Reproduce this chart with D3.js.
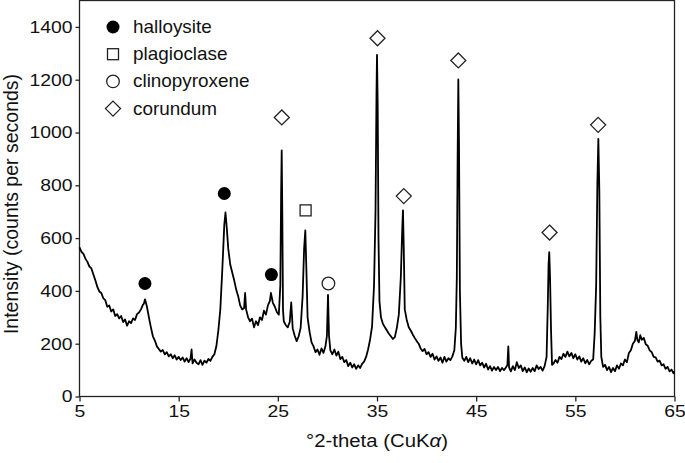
<!DOCTYPE html>
<html>
<head>
<meta charset="utf-8">
<script src="https://cdn.jsdelivr.net/npm/d3@7/dist/d3.min.js"></script>
<style>
  html, body { margin: 0; padding: 0; background: #fff; }
  svg { display: block; font-family: "Liberation Sans", Arial, sans-serif; }
</style>
</head>
<body>
<svg id="chart" width="685" height="463"></svg>
<script>
// XRD pattern: [°2θ, counts per second]
const pattern = [
[5.0,565],[5.2,548],[5.4,540],[5.6,522],[5.8,510],[6.0,492],[6.2,485],[6.4,462],[6.6,440],[6.8,415],
[7.0,398],[7.2,392],[7.4,372],[7.6,365],[7.8,340],[8.0,345],[8.2,322],[8.4,330],[8.6,305],[8.8,312],
[9.0,296],[9.2,305],[9.4,282],[9.6,292],[9.8,268],[10.0,285],[10.2,278],[10.4,296],[10.6,290],[10.8,312],
[11.0,318],[11.2,330],[11.4,348],[11.5,352],[11.6,368],[11.7,355],[11.8,340],[12.0,300],[12.2,262],[12.4,228],
[12.6,212],[12.8,190],[13.0,180],[13.2,170],[13.4,176],[13.6,160],[13.8,168],[14.0,152],[14.2,160],[14.4,145],
[14.6,156],[14.8,140],[15.0,150],[15.2,138],[15.4,148],[15.6,132],[15.8,145],[16.0,130],[16.2,144],[16.3,178],
[16.4,126],[16.6,140],[16.8,128],[17.0,122],[17.2,138],[17.4,120],[17.6,136],[17.8,128],[18.0,142],[18.2,135],
[18.4,150],[18.6,160],[18.8,190],[19.0,250],[19.2,330],[19.4,480],[19.6,650],[19.72,697],[19.85,640],[20.0,560],
[20.2,500],[20.4,470],[20.6,440],[20.8,405],[21.0,380],[21.2,345],[21.4,330],[21.6,335],[21.7,392],[21.8,330],
[22.0,300],[22.2,285],[22.4,295],[22.6,262],[22.8,285],[23.0,270],[23.2,300],[23.4,290],[23.6,325],[23.8,310],
[24.0,345],[24.2,362],[24.3,392],[24.5,355],[24.7,340],[24.9,320],[25.1,310],[25.25,420],[25.33,760],[25.39,932],
[25.45,700],[25.52,330],[25.6,285],[25.8,270],[26.0,262],[26.2,282],[26.35,356],[26.5,258],[26.7,230],[26.9,210],
[27.1,228],[27.3,260],[27.5,380],[27.65,560],[27.77,629],[27.88,480],[28.0,300],[28.2,245],[28.4,205],[28.6,190],
[28.8,168],[29.0,178],[29.2,158],[29.4,182],[29.6,165],[29.8,190],[29.95,230],[30.06,385],[30.16,230],[30.3,175],
[30.5,160],[30.7,178],[30.9,155],[31.1,170],[31.3,142],[31.5,150],[31.7,130],[31.9,138],[32.1,115],[32.3,128],
[32.5,110],[32.7,122],[32.9,105],[33.1,118],[33.3,108],[33.5,124],[33.7,132],[33.9,150],[34.1,178],[34.3,215],
[34.5,265],[34.7,420],[34.85,700],[34.95,1150],[35.0,1294],[35.07,1100],[35.15,600],[35.25,360],[35.4,300],[35.6,275],
[35.8,262],[36.0,250],[36.2,238],[36.4,228],[36.6,218],[36.8,225],[37.0,260],[37.2,310],[37.4,450],[37.55,640],
[37.62,705],[37.7,560],[37.8,330],[38.0,290],[38.2,262],[38.4,250],[38.6,235],[38.8,222],[39.0,210],[39.2,200],
[39.4,182],[39.6,172],[39.8,180],[40.0,160],[40.2,168],[40.4,150],[40.6,162],[40.8,140],[41.0,152],[41.2,135],
[41.4,148],[41.6,128],[41.8,150],[42.0,132],[42.2,145],[42.4,138],[42.6,152],[42.8,175],[42.95,260],[43.05,450],
[43.13,900],[43.2,1201],[43.27,950],[43.36,400],[43.48,200],[43.6,148],[43.8,135],[44.0,150],[44.2,130],[44.4,145],
[44.6,125],[44.8,140],[45.0,122],[45.2,138],[45.4,118],[45.6,128],[45.8,110],[46.0,124],[46.2,102],[46.4,115],
[46.6,98],[46.8,112],[47.0,100],[47.2,112],[47.4,96],[47.6,108],[47.8,100],[48.0,110],[48.15,120],[48.24,190],
[48.32,110],[48.5,95],[48.7,115],[48.9,100],[49.1,130],[49.3,108],[49.5,118],[49.7,96],[49.9,110],[50.1,92],
[50.3,106],[50.5,94],[50.7,108],[50.9,96],[51.1,118],[51.3,104],[51.5,112],[51.7,98],[51.9,115],[52.1,150],
[52.22,340],[52.3,500],[52.37,547],[52.45,450],[52.55,250],[52.65,120],[52.8,125],[53.0,138],[53.2,128],[53.4,150],
[53.6,142],[53.8,162],[54.0,150],[54.2,170],[54.4,152],[54.6,165],[54.8,145],[55.0,160],[55.2,140],[55.4,152],
[55.6,132],[55.8,145],[56.0,126],[56.2,138],[56.4,122],[56.6,135],[56.8,140],[56.95,240],[57.1,420],[57.22,800],
[57.32,976],[57.42,780],[57.52,300],[57.62,150],[57.8,112],[58.0,120],[58.2,100],[58.4,112],[58.6,92],[58.8,108],
[59.0,96],[59.2,118],[59.4,105],[59.6,125],[59.8,118],[60.0,140],[60.2,130],[60.4,165],[60.6,175],[60.8,200],
[61.0,210],[61.15,245],[61.25,215],[61.4,205],[61.55,232],[61.7,215],[61.9,222],[62.1,198],[62.3,192],[62.5,175],
[62.7,168],[62.9,150],[63.1,148],[63.3,132],[63.5,136],[63.7,118],[63.9,122],[64.1,105],[64.3,112],[64.5,95],
[64.7,102],[64.9,88],[65.0,95]
];

// Phase markers placed above peaks: [°2θ, counts]
const halloysite = [[11.6,428],[19.6,769],[24.35,462]];
const plagioclase = [[27.8,705]];
const clinopyroxene = [[30.1,428]];
const corundum = [[25.4,1057],[35.05,1357],[37.7,759],[43.2,1273],[52.4,621],[57.3,1029]];

const legendLabels = ["halloysite","plagioclase","clinopyroxene","corundum"];
const xTicks = [5,15,25,35,45,55,65];
const yTicks = [0,200,400,600,800,1000,1200,1400];

const svg = d3.select("#chart");
const x = d3.scaleLinear().domain([5,65]).range([79.5,674.5]);
const y = d3.scaleLinear().domain([0,1500]).range([396.5,0.5]);

// horizontal stretch of text about its anchor, to match the reference's wide glyphs
function stretch(sel, k) {
  sel.each(function(){
    const t = d3.select(this);
    const ax = +t.attr("x") || 0, ay = +t.attr("y") || 0;
    t.attr("transform", `translate(${ax},${ay}) scale(${k},1) translate(${-ax},${-ay})`);
  });
}

// frame
svg.append("rect").attr("x",79.5).attr("y",0.5).attr("width",595).attr("height",396)
  .attr("fill","none").attr("stroke","#222").attr("stroke-width",1.3);

const xAxis = svg.append("g").attr("transform","translate(0,396.5)")
  .call(d3.axisBottom(x).tickValues(xTicks).tickSize(5).tickPadding(3).tickFormat(d3.format("d")));
const yAxis = svg.append("g").attr("transform","translate(79.5,0)")
  .call(d3.axisLeft(y).tickValues(yTicks).tickSize(4).tickPadding(3).tickFormat(d3.format("d")));
[xAxis,yAxis].forEach(a=>{
  a.select(".domain").remove();
  a.selectAll("line").attr("stroke","#222").attr("stroke-width",1.3);
  a.selectAll("text").attr("fill","#111").style("font-size","17px").style("font-family","'Liberation Sans', Arial, sans-serif");
  stretch(a.selectAll("text"), 1.14);
});

// trace
const line = d3.line().x(d=>x(d[0])).y(d=>y(d[1]));
svg.append("path").datum(pattern).attr("d",line)
  .attr("fill","none").attr("stroke","#000").attr("stroke-width",1.8).attr("stroke-linejoin","round");

// markers
const sym = {
  halloysite: (g,cx,cy)=>g.append("circle").attr("cx",cx).attr("cy",cy).attr("r",6.5).attr("fill","#000"),
  plagioclase: (g,cx,cy)=>g.append("rect").attr("x",cx-5.5).attr("y",cy-5.5).attr("width",11).attr("height",11).attr("fill","#fff").attr("stroke","#222").attr("stroke-width",1.3),
  clinopyroxene: (g,cx,cy)=>g.append("circle").attr("cx",cx).attr("cy",cy).attr("r",6.3).attr("fill","#fff").attr("stroke","#222").attr("stroke-width",1.3),
  corundum: (g,cx,cy)=>g.append("path").attr("d",`M${cx},${cy-7.5}L${cx+7.5},${cy}L${cx},${cy+7.5}L${cx-7.5},${cy}Z`).attr("fill","#fff").attr("stroke","#222").attr("stroke-width",1.3)
};
const mg = svg.append("g");
[["halloysite",halloysite],["plagioclase",plagioclase],["clinopyroxene",clinopyroxene],["corundum",corundum]]
  .forEach(([k,arr])=>arr.forEach(d=>sym[k](mg,x(d[0]),y(d[1]))));

// legend
const lg = svg.append("g");
legendLabels.forEach((lab,i)=>{
  const cy = 27 + i*27.2;
  sym[lab](lg,113,cy);
  const t = lg.append("text").attr("x",133).attr("y",cy+6).text(lab)
    .style("font-size","17.5px").attr("fill","#111");
  stretch(t, 1.08);
});

// axis titles
const xt = svg.append("text").attr("x",377).attr("y",447).attr("text-anchor","middle")
  .style("font-size","18.5px").attr("fill","#111")
  .html('°2-theta (CuK<tspan font-style="italic">α</tspan>)');
stretch(xt, 1.1);
svg.append("text").attr("transform","translate(17.5,204) rotate(-90)").attr("text-anchor","middle")
  .style("font-size","19.5px").attr("fill","#111")
  .text("Intensity (counts per seconds)");
</script>
</body>
</html>
